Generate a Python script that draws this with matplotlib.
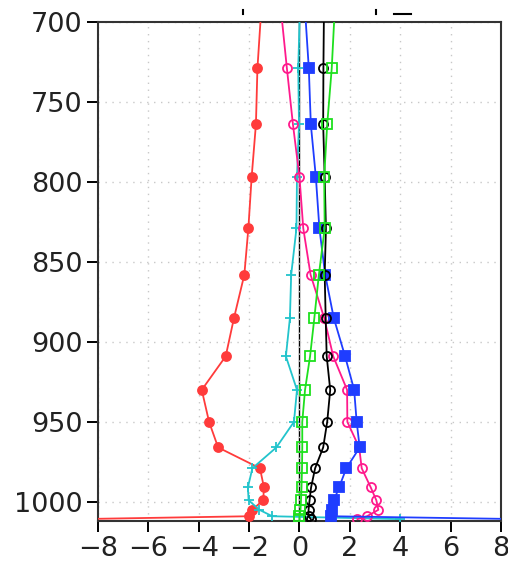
import numpy as np
import matplotlib.pyplot as plt
from matplotlib.lines import Line2D

# model levels (hPa)
levels = [695, 729, 764, 797, 829, 858, 885, 909, 930, 950, 966, 979, 991, 999, 1005, 1009, 1010.8]

red = [-1.53, -1.67, -1.73, -1.90, -2.03, -2.19, -2.60, -2.93, -3.88, -3.59, -3.23, -1.57, -1.41, -1.44, -1.88, -1.99, -8.8]
magenta = [-0.72, -0.50, -0.26, 0.00, 0.15, 0.44, 0.98, 1.34, 1.89, 1.90, 2.37, 2.47, 2.83, 3.05, 3.13, 2.68, 2.3]
cyan = [0.01, -0.05, -0.02, -0.10, -0.12, -0.33, -0.38, -0.54, -0.10, -0.22, -0.92, -1.87, -2.05, -2.02, -1.59, -1.08, 4.0]
blue = [0.23, 0.37, 0.45, 0.65, 0.79, 1.02, 1.36, 1.81, 2.17, 2.27, 2.39, 1.86, 1.57, 1.37, 1.29, 1.24, 8.8]
black = [0.97, 0.95, 0.94, 1.00, 1.05, 1.00, 1.04, 1.08, 1.22, 1.10, 0.94, 0.62, 0.46, 0.40, 0.36, 0.36, 0.45]
green = [1.39, 1.28, 1.10, 0.98, 1.00, 0.77, 0.59, 0.42, 0.22, 0.11, 0.11, 0.10, 0.08, 0.06, 0.04, 0.00, 0.00]

xticks = [-8, -6, -4, -2, 0, 2, 4, 6, 8]
yticks = [700, 750, 800, 850, 900, 950, 1000]

styles = [
    (red, '#ff3b3b', 'o', 'full'),
    (cyan, '#22c4cc', '+', 'full'),
    (magenta, '#ff1a8c', 'o', 'none'),
    (blue, '#1f3dff', 's', 'full'),
    (black, '#000000', 'o', 'none'),
    (green, '#1ee01e', 's', 'none'),
]

plt.rcParams['font.family'] = ['DejaVu Sans']

fig = plt.figure(figsize=(5.08, 5.66), dpi=100)
ax = fig.add_axes([0.1929, 0.080, 0.7933, 0.8811])

ax.axvline(0, color='black', lw=1.0, zorder=1)

for vals, col, mk, fill in styles:
    ms = 6.5 if mk == 'o' else 6.5
    if mk == '+':
        ms = 7
    ax.plot(vals, levels, color=col, lw=1.3, marker=mk, ms=ms,
            fillstyle=fill, markerfacecolor=(col if fill == 'full' else 'white'),
            markeredgewidth=1.3, zorder=3)

ax.set_xlim(-8, 8)
ax.set_ylim(1011.8, 700)
ax.set_xticks(xticks)
ax.set_yticks(yticks)
ax.grid(True, color='#c8c8c8', linestyle=(0, (1, 4)), lw=1.0)
ax.tick_params(direction='out', length=8, width=1.4, labelsize=19.5, colors='black',
               labelcolor='#222222', top=False, right=False, pad=3)
for s in ax.spines.values():
    s.set_color('#333333')
    s.set_linewidth(1.5)

# clipped bits above the frame
fig.add_artist(Line2D([243 / 508, 243 / 508], [1 - 10 / 566, 1 - 14 / 566], color='black', lw=1.5))
fig.add_artist(Line2D([376 / 508, 376 / 508], [1 - 10 / 566, 1 - 14 / 566], color='black', lw=1.5))
fig.add_artist(Line2D([394 / 508, 411 / 508], [1 - 13.5 / 566, 1 - 13.5 / 566], color='black', lw=1.5))

fig.savefig('out.png', dpi=100)
